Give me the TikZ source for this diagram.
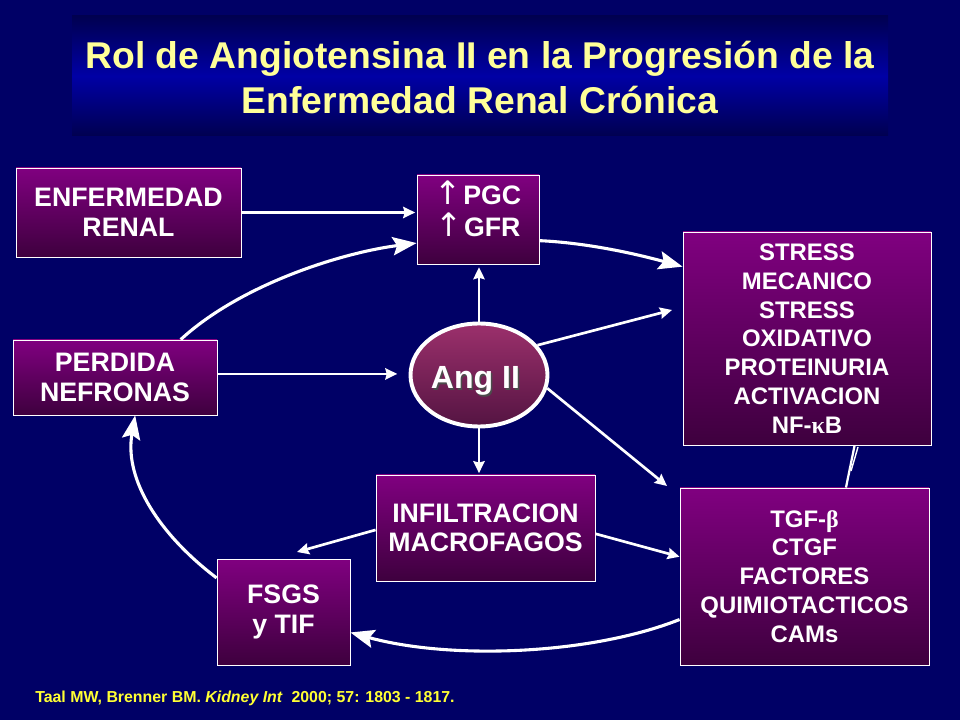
\documentclass[tikz,border=0pt]{standalone}
\usepackage{fontspec}
\setmainfont{Liberation Sans}
\newfontfamily\greekfont{Liberation Serif}
\newfontfamily\arrowfont{DejaVu Sans}
\usetikzlibrary{arrows.meta,shapes.geometric}
\definecolor{slidebg}{RGB}{0,0,102}
\definecolor{titledark}{RGB}{0,0,80}
\definecolor{titleblue}{RGB}{0,0,165}
\definecolor{titlecol}{RGB}{255,255,153}
\definecolor{boxtop}{RGB}{128,0,128}
\definecolor{boxbottom}{RGB}{62,0,62}
\definecolor{angtop}{RGB}{156,48,108}
\definecolor{angbottom}{RGB}{84,20,66}
\definecolor{citecol}{RGB}{255,255,51}
\newcommand{\uparr}{\smash{\arrowfont\mdseries\fontsize{23}{23}\selectfont ↑}\hspace{1pt}}
\tikzset{
  labelbox/.style={draw=white,line width=0.6pt,rectangle,inner sep=0pt,
    top color=boxtop,bottom color=boxbottom,middle color=boxtop!50!boxbottom,
    text=white,font=\bfseries\fontsize{19}{21}\selectfont,align=center},
  bigarrow/.style={draw=white,line width=2.2pt,-{Stealth[length=17pt,width=13pt,inset=3pt]}},
  smallarrow/.style={draw=white,line width=1.9pt,-{Stealth[length=8.5pt,width=8pt,inset=1pt]}}
}
\begin{document}
\begin{tikzpicture}[x=0.025cm,y=-0.025cm]
   \useasboundingbox (0,0) rectangle (960,720);
   \fill[slidebg] (0,0) rectangle (960,720);
   % title band
   \shade[top color=titledark,bottom color=titledark,middle color=titleblue]
     (72,16) rectangle (888,136);
   \node[text=titlecol,font=\bfseries\fontsize{26.5}{32}\selectfont,align=center] (title) at (480,78)
     {Rol de Angiotensina II en la Progresión de la\\Enfermedad Renal Crónica};
   % boxes
   \node[labelbox,minimum width=225*0.025cm,minimum height=89*0.025cm] (enf) at (128.5,212.5) {ENFERMEDAD\\RENAL};
   \node[labelbox,minimum width=122*0.025cm,minimum height=89*0.025cm,font=\bfseries\fontsize{19}{22.5}\selectfont] (pgc) at (478,219.5)
     {\uparr PGC\\\uparr GFR\\[-10.5pt]\mbox{}};
   \node[labelbox,minimum width=248*0.025cm,minimum height=213*0.025cm,font=\bfseries\fontsize{17}{20.5}\selectfont] (stress) at (807,338.5)
     {STRESS\\MECANICO\\STRESS\\OXIDATIVO\\PROTEINURIA\\ACTIVACION\\NF-{\greekfont κ}B};
   \node[labelbox,minimum width=204*0.025cm,minimum height=75*0.025cm] (perdida) at (115,377.5) {PERDIDA\\NEFRONAS};
   \node[labelbox,minimum width=219*0.025cm,minimum height=106*0.025cm] (infil) at (485.5,528) {INFILTRACION\\MACROFAGOS};
   \node[labelbox,minimum width=249*0.025cm,minimum height=177*0.025cm,font=\bfseries\fontsize{17}{20.5}\selectfont] (tgf) at (804.5,576.5)
     {TGF-{\greekfont β}\\CTGF\\FACTORES\\QUIMIOTACTICOS\\CAMs};
   \node[labelbox,minimum width=133*0.025cm,minimum height=106*0.025cm] (fsgs) at (283.5,612) {FSGS\\y TIF};
   \node[draw=white,line width=2.8pt,ellipse,inner sep=0pt,minimum width=137*0.025cm,minimum height=103*0.025cm,
     top color=angtop,bottom color=angbottom] (ang) at (479,375) {};
   \node[text=black!70,font=\bfseries\fontsize{22.8}{24}\selectfont] (angshadow) at (477,382.5) {Ang II};
   \node[text=white,font=\bfseries\fontsize{22.8}{24}\selectfont] (anglabel) at (475.5,381) {Ang II};
   \node[text=citecol,font=\bfseries\fontsize{11.3}{13}\selectfont,anchor=west,inner sep=0pt] (cite) at (35,698)
     {Taal MW, Brenner BM. \textit{Kidney Int}\ \ 2000; 57: 1803 - 1817.};
   % free ends
   \coordinate (stressend) at (672,310);
   \coordinate (tgfend) at (667,486);
   \coordinate (fsgsend) at (297,552);
   \coordinate (barbtop) at (858,447);
   \coordinate (barbfoot) at (851,471);
   % connectors
   \draw[smallarrow,shorten >=1pt] (enf.east) -- (enf.east -| pgc.west);
   \draw[smallarrow,shorten >=2pt] (ang.north) -- (ang.north |- pgc.south);
   \draw[smallarrow] (ang.27) -- (stressend);
   \draw[smallarrow] (ang.-11) -- (tgfend);
   \draw[smallarrow,shorten >=1pt] (ang.south) -- (ang.south |- infil.north);
   \draw[smallarrow,shorten >=8pt] (perdida.2.5) -- (perdida.2.5 -| ang.west);
   \draw[smallarrow] (infil.-3) -- (tgf.171.5);
   \draw[smallarrow] (infil.181.6) -- (fsgsend);
   \draw[bigarrow] (perdida.30) .. controls (240,285) and (340,253) .. (pgc.201);
   \draw[bigarrow] (pgc.-19) .. controls (590,243) and (640,255) .. (stress.150);
   \draw[bigarrow] (tgf.199.7) .. controls (590,655) and (450,660) .. (fsgs.-17.5);
   \draw[bigarrow] (fsgs.153) .. controls (160,535) and (124,480) .. (perdida.-62);
   \draw[white,line width=1.6pt] (tgf.65.5) -- (stress.-66.6);
   \draw[white,line width=1pt] (barbtop) -- (barbfoot);
\end{tikzpicture}
\end{document}
